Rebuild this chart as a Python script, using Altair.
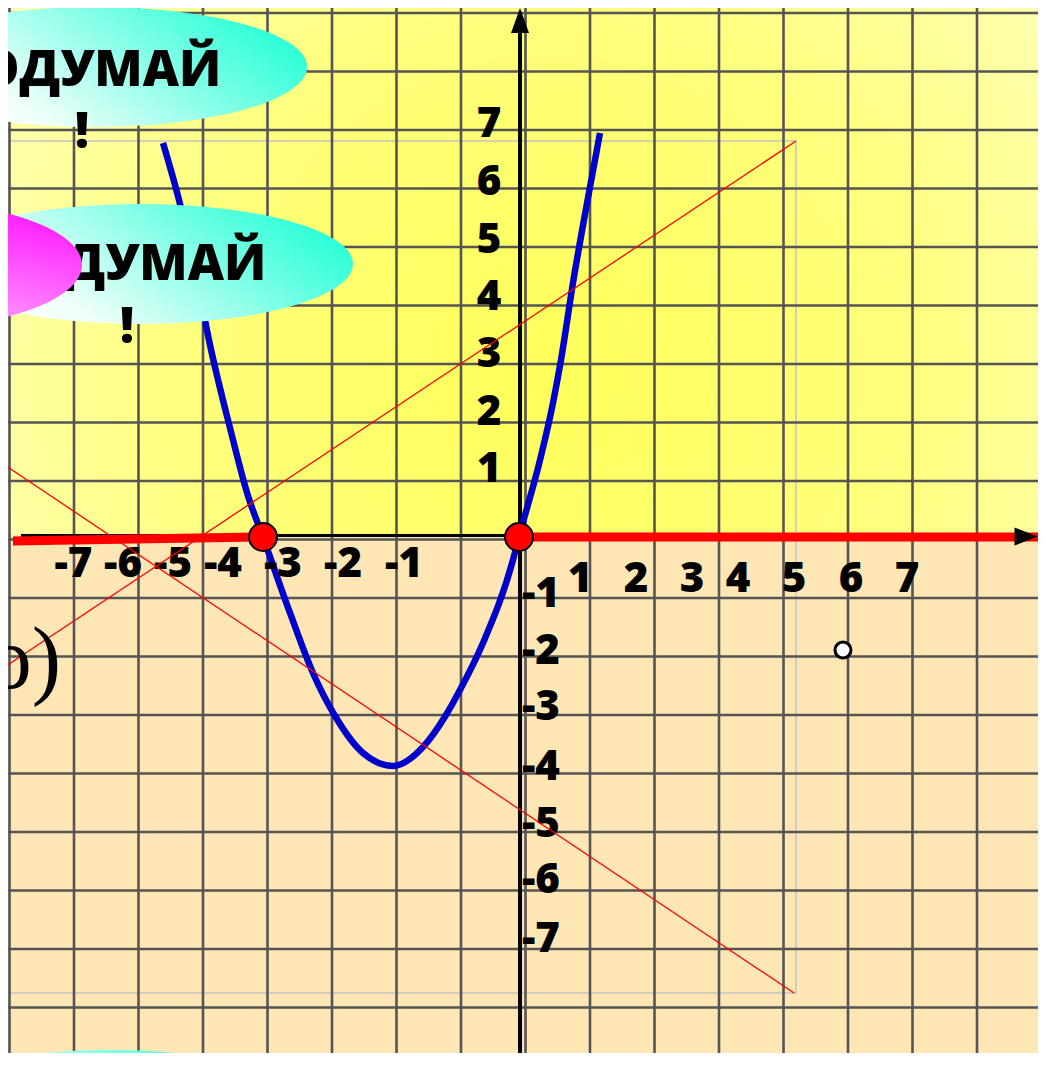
import altair as alt
import pandas as pd

# ---------------- data (grid units, one cell = 1) ----------------
grid_x = list(range(-8, 8))
grid_y = list(range(-8, 10))

# hand-drawn parabola
parab_x = [-5.620, -5.341, -5.093, -4.891, -4.581, -4.302, -4.070, -3.651, -3.295, -2.953,
           -2.519, -2.054, -1.589, -1.233, -1.016, -0.659, -0.194, -0.101, 0.225, 0.426,
           0.550, 0.736, 1.000, 1.155]
parab_y = [6.778, 5.667, 4.436, 3.325, 1.906, 0.744, 0.043, -1.256, -2.282, -3.017,
           -3.650, -3.872, -3.547, -3.000, -2.573, -1.769, -0.350, 0.043, 1.359, 2.333,
           3.068, 4.385, 6.026, 6.949]

root_x = [-4.070, -0.101]
root_y = [0.043, 0.043]

open_x = [4.922]
open_y = [-1.889]

# thin red lines (diagonals of the grey frame)
thin_id = ["a", "a", "b", "b"]
thin_x = [-8.147, 4.194, -8.147, 4.163]
thin_y = [-2.231, 6.812, 1.325, -7.752]

frame_x, frame_x2 = [-8.5], [4.194]
frame_y, frame_y2 = [-7.752], [6.812]

# thick red solution rays on the x axis
ray_x = [-7.946, -0.101]
ray_x2 = [-4.070, 8.10]
ray_y = [-0.026, 0.043]
ray_y2 = [0.043, 0.043]

# axes
xaxis_x, xaxis_x2, xaxis_y = [-7.822], [7.80], [0.068]
yaxis_x, yaxis_y, yaxis_y2 = [-0.085], [-9.5], [8.66]
yarrow_x, yarrow_y = [-0.085], [8.872]
xarrow_x, xarrow_y = [7.76], [0.051]

# tick labels
xneg_text = ["-7", "-6", "-5", "-4", "-3", "-2", "-1"]
xneg_x = [-7.008, -6.240, -5.465, -4.690, -3.760, -2.829, -1.884]
xneg_y = [-0.641] * 7
xpos_text = ["1", "2", "3", "4", "5", "6", "7"]
xpos_x = [0.845, 1.713, 2.581, 3.295, 4.163, 5.047, 5.915]
xpos_y = [-0.897] * 7
ypos_text = ["7", "6", "5", "4", "3", "2", "1"]
ypos_x = [-0.566] * 7
ypos_y = [6.880, 5.889, 4.897, 3.923, 2.949, 1.957, 0.983]
yneg_text = ["-1", "-2", "-3", "-4", "-5", "-6", "-7"]
yneg_x = [0.240] * 7
yneg_y = [-1.154, -2.128, -3.085, -4.111, -5.085, -6.043, -7.051]

# decorations: bubbles with text
bubble1_x, bubble1_y = [-6.674], [8.077]
bubble2_x, bubble2_y = [-5.977], [4.709]
magenta_x, magenta_y = [-9.698], [4.692]
bubble3_x, bubble3_y = [-6.442], [-9.786]
word_text = ["ПОДУМАЙ", "ПОДУМАЙ"]
word_x = [-6.876, -6.178]
word_y = [7.752, 4.436]
bang_text = ["!", "!"]
bang_x = [-6.876, -6.178]
bang_y = [6.692, 3.359]
frag_text = ["о)"]
frag_x = [-7.20]
frag_y = [-2.538]

upper_x, upper_x2, upper_y, upper_y2 = [-8.2], [8.2], [0.08], [9.3]

# ---------------- chart ----------------
W, H = 1030, 1045
X_DOM = [-8.0233, 7.9457]
Y_DOM = [-8.7778, 9.0855]
xs = alt.Scale(domain=X_DOM, nice=False, zero=False)
ys = alt.Scale(domain=Y_DOM, nice=False, zero=False)


def ex(f):
    return alt.X(f, type="quantitative", scale=xs, axis=None)


def ey(f):
    return alt.Y(f, type="quantitative", scale=ys, axis=None)


def ellipse_path(r):
    k = 0.5523
    return (f"M1,0C1,{k*r:.4f} {k},{r:.4f} 0,{r:.4f}"
            f"C{-k},{r:.4f} -1,{k*r:.4f} -1,0"
            f"C-1,{-k*r:.4f} {-k},{-r:.4f} 0,{-r:.4f}"
            f"C{k},{-r:.4f} 1,{-k*r:.4f} 1,0Z")


yellow = alt.Gradient(
    gradient="radial",
    stops=[alt.GradientStop(color="#FFFF5A", offset=0),
           alt.GradientStop(color="#FFFF7A", offset=0.45),
           alt.GradientStop(color="#FFFFCC", offset=1)],
    x1=0.52, y1=0.6, r1=0, x2=0.52, y2=0.6, r2=0.72)

cyan = alt.Gradient(
    gradient="linear",
    stops=[alt.GradientStop(color="#FFFFFF", offset=0),
           alt.GradientStop(color="#EEFFFA", offset=0.25),
           alt.GradientStop(color="#22FFD6", offset=1)],
    x1=0, y1=0.7, x2=1, y2=0.3)

magenta = alt.Gradient(
    gradient="linear",
    stops=[alt.GradientStop(color="#FFB0FF", offset=0),
           alt.GradientStop(color="#FF1EFF", offset=1)],
    x1=0.5, y1=1, x2=1, y2=0.2)

layers = []

layers.append(alt.Chart(pd.DataFrame({"x": upper_x, "x2": upper_x2, "y": upper_y, "y2": upper_y2}))
              .mark_rect(fill=yellow, clip=True)
              .encode(x=ex("x"), x2=alt.X2("x2"), y=ey("y"), y2=alt.Y2("y2")))

layers.append(alt.Chart(pd.DataFrame({"x": frame_x, "x2": frame_x2, "y": frame_y, "y2": frame_y2}))
              .mark_rect(fillOpacity=0, stroke="#C4C4C4", strokeWidth=1.5, clip=True)
              .encode(x=ex("x"), x2=alt.X2("x2"), y=ey("y"), y2=alt.Y2("y2")))

layers.append(alt.Chart(pd.DataFrame({"x": grid_x}))
              .mark_rule(color="#555555", strokeWidth=2.6, clip=True)
              .encode(x=ex("x")))
layers.append(alt.Chart(pd.DataFrame({"y": grid_y}))
              .mark_rule(color="#555555", strokeWidth=2.6, clip=True)
              .encode(y=ey("y")))

layers.append(alt.Chart(pd.DataFrame({"x": xaxis_x, "x2": xaxis_x2, "y": xaxis_y}))
              .mark_rule(color="black", strokeWidth=3, clip=True)
              .encode(x=ex("x"), x2=alt.X2("x2"), y=ey("y")))
layers.append(alt.Chart(pd.DataFrame({"x": yaxis_x, "y": yaxis_y, "y2": yaxis_y2}))
              .mark_rule(color="black", strokeWidth=4, clip=True)
              .encode(x=ex("x"), y=ey("y"), y2=alt.Y2("y2")))
layers.append(alt.Chart(pd.DataFrame({"x": yarrow_x, "y": yarrow_y}))
              .mark_point(shape="M0,-1L0.72,1L-0.72,1Z", size=625, filled=True,
                          fill="black", opacity=1, strokeWidth=0, clip=True)
              .encode(x=ex("x"), y=ey("y")))

layers.append(alt.Chart(pd.DataFrame({"x": parab_x, "y": parab_y}))
              .mark_line(color="#0000CC", strokeWidth=6.5, interpolate="monotone", clip=True)
              .encode(x=ex("x"), y=ey("y")))

layers.append(alt.Chart(pd.DataFrame({"x": ray_x, "x2": ray_x2, "y": ray_y, "y2": ray_y2}))
              .mark_rule(color="#FF0000", strokeWidth=9, clip=True)
              .encode(x=ex("x"), x2=alt.X2("x2"), y=ey("y"), y2=alt.Y2("y2")))
layers.append(alt.Chart(pd.DataFrame({"x": xarrow_x, "y": xarrow_y}))
              .mark_point(shape="M1,0L-1,-0.78L-1,0.78Z", size=529, filled=True,
                          fill="black", opacity=1, strokeWidth=0, clip=True)
              .encode(x=ex("x"), y=ey("y")))

label_font = dict(font="Open Sans", fontWeight=800, fontSize=42, color="black",
                  align="center", baseline="alphabetic", clip=True)
for t, x, y in [(xneg_text, xneg_x, xneg_y), (xpos_text, xpos_x, xpos_y),
                (ypos_text, ypos_x, ypos_y), (yneg_text, yneg_x, yneg_y)]:
    layers.append(alt.Chart(pd.DataFrame({"t": t, "x": x, "y": y}))
                  .mark_text(**label_font)
                  .encode(x=ex("x"), y=ey("y"), text="t:N"))

layers.append(alt.Chart(pd.DataFrame({"id": thin_id, "x": thin_x, "y": thin_y}))
              .mark_line(color="#FF0000", strokeWidth=1.3, clip=True)
              .encode(x=ex("x"), y=ey("y"), detail="id:N"))

layers.append(alt.Chart(pd.DataFrame({"x": root_x, "y": root_y}))
              .mark_point(shape="circle", size=784, filled=True, fill="#FF0000",
                          stroke="black", strokeWidth=2, opacity=1, clip=True)
              .encode(x=ex("x"), y=ey("y")))
layers.append(alt.Chart(pd.DataFrame({"x": open_x, "y": open_y}))
              .mark_point(shape="circle", size=256, filled=True, fill="white",
                          stroke="black", strokeWidth=3, opacity=1, clip=True)
              .encode(x=ex("x"), y=ey("y")))

layers.append(alt.Chart(pd.DataFrame({"t": frag_text, "x": frag_x, "y": frag_y}))
              .mark_text(font="Liberation Serif", fontSize=88, color="black",
                         align="right", baseline="alphabetic", clip=True)
              .encode(x=ex("x"), y=ey("y"), text="t:N"))


def bubble(xv, yv, semi_w, semi_h, grad):
    return (alt.Chart(pd.DataFrame({"x": xv, "y": yv}))
            .mark_point(shape=ellipse_path(semi_h / semi_w), size=(2 * semi_w) ** 2,
                        filled=True, fill=grad, opacity=1, strokeWidth=0, clip=True)
            .encode(x=ex("x"), y=ey("y")))


layers.append(bubble(bubble3_x, bubble3_y, 215, 62, cyan))
layers.append(bubble(bubble1_x, bubble1_y, 212, 60, cyan))
layers.append(bubble(bubble2_x, bubble2_y, 213, 60, cyan))

word_font = dict(font="Open Sans", fontWeight=800, fontSize=50, color="black",
                 align="center", baseline="alphabetic", clip=True)
layers.append(alt.Chart(pd.DataFrame({"t": word_text, "x": word_x, "y": word_y}))
              .mark_text(**word_font)
              .encode(x=ex("x"), y=ey("y"), text="t:N"))
layers.append(alt.Chart(pd.DataFrame({"t": bang_text, "x": bang_x, "y": bang_y}))
              .mark_text(**word_font)
              .encode(x=ex("x"), y=ey("y"), text="t:N"))

layers.append(bubble(magenta_x, magenta_y, 182, 64, magenta))

chart = (alt.layer(*layers)
         .properties(width=W, height=H, padding=0,
                     autosize=alt.AutoSizeParams(type="none"),
                     background="#FFE6B5")
         .configure_view(fill="#FFE6B5", strokeWidth=0))

chart.save("out.html", embed_options={"renderer": "svg", "actions": False})
